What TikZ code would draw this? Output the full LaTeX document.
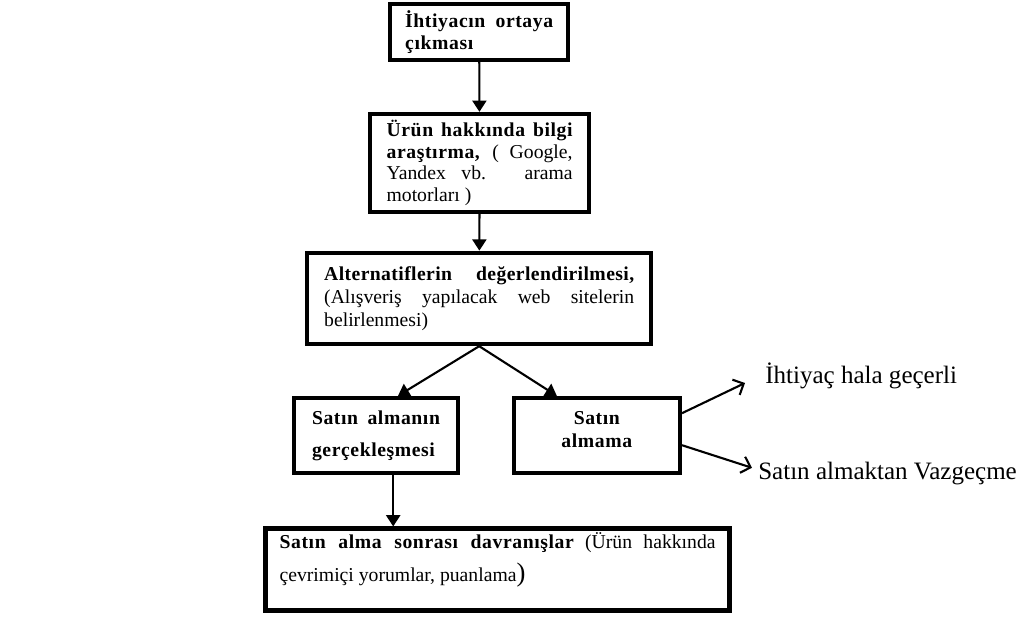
\documentclass[tikz,border=0pt]{standalone}
\usepackage{fontspec}
\setmainfont{Liberation Serif}
\usetikzlibrary{arrows.meta,calc}
\newcommand{\kalin}[1]{{\bfseries\addfontfeature{LetterSpace=3}#1}}
\hyphenpenalty=10000
\tolerance=9999
\begin{document}
\begin{tikzpicture}[
  kutu/.style={draw,line width=3.1pt,inner sep=0pt,align=justify,font=\fontsize{14}{15.5}\selectfont},
  ok/.style={line width=1.5pt,-{Triangle[length=8pt,width=10pt]}},
  acik/.style={line width=1.5pt,-{Straight Barb[length=6pt,width=12pt]}},
  yazi/.style={inner sep=0pt,font=\fontsize{17.8}{20}\selectfont}]
\useasboundingbox (0,0) rectangle (25.5,-15.5);
\node[kutu,minimum width=4.45cm,minimum height=1.4cm,text width=3.7cm] (ihtiyac) at (11.98,-0.8) {\kalin{İhtiyacın ortaya çıkması}};
\node[kutu,minimum width=5.48cm,minimum height=2.45cm,text width=4.65cm] (arastirma) at (11.99,-4.075) {\kalin{Ürün hakkında bilgi araştırma,} ( Google, Yandex vb. arama motorları )};
\node[kutu,minimum width=8.6cm,minimum height=2.28cm,text width=7.75cm,font=\fontsize{14}{16.3}\selectfont] (alternatif) at (11.98,-7.46) {{\bfseries\addfontfeature{LetterSpace=2}Alternatiflerin değerlendirilmesi,} (Alışveriş yapılacak web sitelerin belirlenmesi)};
\node[kutu,minimum width=4.1cm,minimum height=1.88cm,text width=3.2cm,font=\fontsize{14}{22.5}\selectfont] (satinal) at (9.4,-10.89) {\kalin{Satın almanın gerçekleşmesi}};
\node[kutu,minimum width=4.15cm,minimum height=1.88cm,align=center,text depth=0.3cm,font=\fontsize{14}{16.5}\selectfont\bfseries\addfontfeature{LetterSpace=3}] (satinalma) at (14.92,-10.89) {Satın\\almama};
\node[kutu,minimum width=11.6cm,minimum height=2.05cm,text width=10.9cm,text depth=1.47cm,font=\fontsize{14}{23.5}\selectfont] (sonrasi) at (12.44,-14.24) {\kalin{Satın alma sonrası davranışlar} (Ürün hakkında çevrimiçi yorumlar, puanlama{\fontsize{19}{20}\selectfont)}};
\node[yazi,anchor=base west] (gecerli) at (19.125,-9.575) {İhtiyaç hala geçerli};
\node[yazi,anchor=base west] (vazgecme) at (18.95,-11.975) {Satın almaktan Vazgeçme};
\draw[ok] (ihtiyac) -- (arastirma);
\draw[ok] (arastirma) -- (alternatif);
\draw[ok] (alternatif.south) -- ($(satinal.north)+(0.55,0)$);
\draw[ok] (alternatif.south) -- ($(satinalma.north)+(-1.0,0)$);
\draw[ok] ($(satinal.south)+(0.43,0)$) -- ($(satinal.south |- sonrasi.north)+(0.43,0)$);
\draw[acik] ($(satinalma.east)+(0,0.56)$) -- ($(gecerli.base west)+(-0.5,0)$);
\draw[acik] ($(satinalma.east)+(0,-0.24)$) -- ($(vazgecme.base west)+(-0.15,0.28)$);
\end{tikzpicture}
\end{document}
